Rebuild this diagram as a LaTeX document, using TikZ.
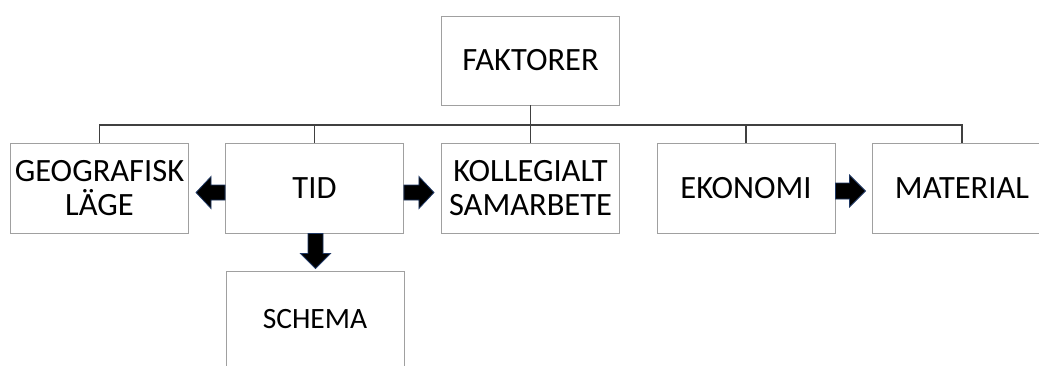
\documentclass[tikz,border=0pt]{standalone}
\usepackage{fontspec}
\setmainfont{Carlito}
\usetikzlibrary{calc}
\definecolor{boxgray}{RGB}{160,160,160}
\definecolor{linegray}{RGB}{64,64,64}
\definecolor{arrowblue}{RGB}{31,56,100}
\tikzset{
  box/.style={draw=boxgray, line width=0.9pt, fill=white, minimum width=178pt, minimum height=90pt,
    inner sep=0pt, align=center, font=\fontsize{32.5}{34}\selectfont},
  conn/.style={draw=linegray, line width=1.3pt},
  barrow/.style={fill=black, draw=arrowblue, line width=0.8pt, line join=miter}
}
\begin{document}
\begin{tikzpicture}[x=1pt,y=-1pt]
\useasboundingbox (0,0) rectangle (1039,365);
\clip (0,0) rectangle (1039,365);
\fill[white] (0,0) rectangle (1039,365);
\node[box, minimum height=89pt] (fak) at (530.5,60.5) {FAKTORER};
\node[box] (geo) at (99.5,188) {GEOGRAFISK\\LÄGE};
\node[box] (tid) at (314.5,188) {TID};
\node[box] (kol) at (530.5,188) {KOLLEGIALT\\SAMARBETE};
\node[box] (eko) at (746,188) {EKONOMI};
\node[box, minimum width=180pt] (mat) at (962,188) {MATERIAL};
\node[box, minimum height=96pt, font=\fontsize{29.5}{32}\selectfont] (sch) at (315,319) {SCHEMA};
\coordinate (bus) at (530.5,125);
\draw[conn] (fak.south) -- (kol.north);
\draw[conn] (geo.north) |- (bus);
\draw[conn] (tid.north) -- (tid.north |- bus);
\draw[conn] (mat.north) |- (bus);
\draw[conn] (eko.north) -- (eko.north |- bus);
% block arrows
\begin{scope}[shift={($(tid.west)+(0,4.5)$)}, xscale=-1]
  \draw[barrow] (0,-7.5) -- (14,-7.5) -- (14,-16) -- (29,0) -- (14,16) -- (14,7.5) -- (0,7.5) -- cycle;
\end{scope}
\begin{scope}[shift={($(tid.east)+(0,4.5)$)}]
  \draw[barrow] (0,-7.5) -- (15,-7.5) -- (15,-16) -- (30,0) -- (15,16) -- (15,7.5) -- (0,7.5) -- cycle;
\end{scope}
\begin{scope}[shift={($(tid.south)+(1,0)$)}]
  \draw[barrow] (-7.5,0) -- (-7.5,20) -- (-15,20) -- (0,35) -- (15,20) -- (7.5,20) -- (7.5,0) -- cycle;
\end{scope}
\begin{scope}[shift={($(eko.east)+(0,3)$)}]
  \draw[barrow] (0,-8) -- (14,-8) -- (14,-16) -- (30,0) -- (14,16) -- (14,8) -- (0,8) -- cycle;
\end{scope}
\end{tikzpicture}
\end{document}
